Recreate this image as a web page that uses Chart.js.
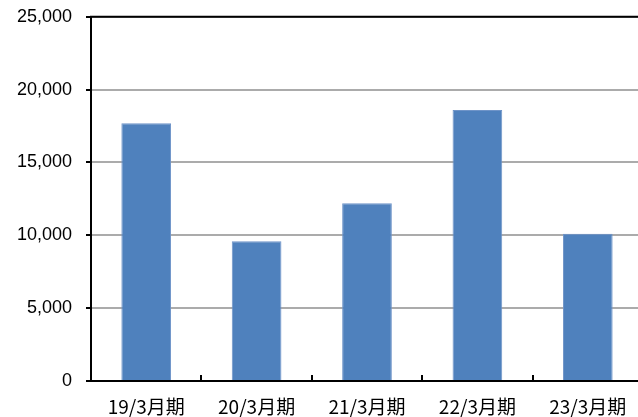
<!DOCTYPE html>
<html>
<head>
<meta charset="utf-8">
<script src="https://cdn.jsdelivr.net/npm/chart.js@4/dist/chart.umd.min.js"></script>
<style>
  html, body { margin: 0; padding: 0; background: #fff; overflow: hidden; }
  #wrap { position: absolute; left: 0; top: -8px; width: 646px; height: 425px; }
</style>
</head>
<body>
<div id="wrap"><canvas id="salesChart"></canvas></div>
<script>
const categories = ['19/3月期', '20/3月期', '21/3月期', '22/3月期', '23/3月期'];
const salesValues = [17700, 9600, 12200, 18600, 10100];
const yTicks = [0, 5000, 10000, 15000, 20000, 25000];

const FONT = '"Noto Sans CJK JP", "Noto Sans", sans-serif';
const NUM_FONT = '"Liberation Sans", Arial, sans-serif';

// 上の枠線と、カテゴリ境界の内向きの目盛り
const frameLines = {
    id: 'frameLines',
    afterDraw(chart) {
        const { ctx, chartArea } = chart;
        const x = chart.scales.x;
        ctx.save();
        ctx.strokeStyle = '#000';
        ctx.lineWidth = 2;
        ctx.beginPath();
        ctx.moveTo(chartArea.left - 1, chartArea.top);
        ctx.lineTo(chartArea.right, chartArea.top);
        for (let i = 1; i < categories.length; i++) {
            const px = Math.round((x.getPixelForTick(i - 1) + x.getPixelForTick(i)) / 2);
            ctx.moveTo(px, chartArea.bottom);
            ctx.lineTo(px, chartArea.bottom - 6);
        }
        ctx.stroke();
        ctx.restore();
    }
};

new Chart(document.getElementById('salesChart'), {
    type: 'bar',
    data: {
        labels: categories,
        datasets: [{
            data: salesValues,
            backgroundColor: '#4F81BD',
            borderColor: '#6f94c8',
            borderWidth: 1,
            barPercentage: 0.45,
            categoryPercentage: 1.0
        }]
    },
    options: {
        responsive: true,
        maintainAspectRatio: false,
        animation: false,
        layout: { padding: { top: 0, right: 3, bottom: 0, left: 0 } },
        plugins: {
            legend: { display: false },
            tooltip: { enabled: false }
        },
        scales: {
            x: {
                afterFit(scale) {
                    scale.height = 36;
                },
                grid: { display: false, drawTicks: false },
                border: { color: '#000', width: 2, z: 1 },
                ticks: {
                    color: '#000',
                    padding: 14,
                    maxRotation: 0,
                    font: { family: FONT, size: 19 }
                }
            },
            y: {
                min: 0,
                max: 25000,
                afterBuildTicks(scale) {
                    scale.ticks = yTicks.map(v => ({ value: v }));
                },
                afterFit(scale) {
                    scale.width = 91;
                },
                grid: {
                    color: '#ababab',
                    lineWidth: 2,
                    tickColor: '#000',
                    tickLength: 5,
                    tickWidth: 2
                },
                border: { color: '#000', width: 2 },
                ticks: {
                    color: '#000',
                    padding: 14,
                    font: { family: NUM_FONT, size: 18 },
                    callback: v => v.toLocaleString('en-US')
                }
            }
        }
    },
    plugins: [frameLines]
});
</script>
</body>
</html>
